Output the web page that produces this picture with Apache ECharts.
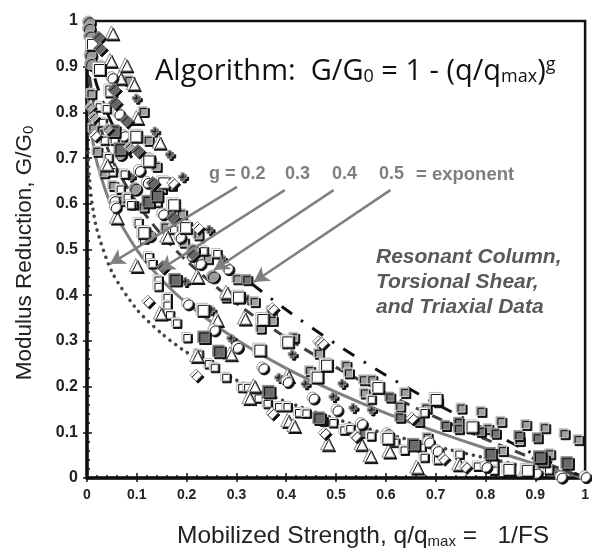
<!DOCTYPE html>
<html><head><meta charset="utf-8">
<style>html,body{margin:0;padding:0;background:#fff}#c{width:592px;height:550px}</style>
<script src="https://cdn.jsdelivr.net/npm/echarts@6/dist/echarts.min.js"></script></head>
<body><div id="c"></div>
<script>
const triangles=[[.049,.975],[.046,.915],[.077,.905],[.065,.877],[.092,.864],[.099,.79],[.144,.736],[.038,.688],[.058,.572],[.159,.53],[.098,.466],[.22,.442],[.146,.362],[.279,.408],[.315,.351],[.259,.348],[.219,.269],[.287,.273],[.334,.203],[.324,.177],[.402,.225],[.402,.127],[.414,.116],[.482,.076],[.549,.076],[.567,.05],[.605,.06],[.661,.025],[.745,.032],[.878,.018]];
const grayCircles=[[.003,.998],[.003,.984],[.005,.967],[.006,.926],[.007,.907],[.096,.634],[.066,.71],[.124,.532],[.252,.442],[.212,.499]];
const whiteCircles=[[.073,.75],[.063,.798],[.124,.70],[.104,.674],[.12,.648],[.151,.579],[.053,.608],[.056,.594],[.049,.877],[.201,.382],[.254,.325],[.301,.287],[.352,.242],[.401,.212],[.453,.176],[.226,.47],[.282,.459],[.501,.15],[.55,.12],[.602,.098],[.685,.08],[.702,.061],[.8,.026],[.901,.012],[.951,.003],[.999,.004],[.186,.528],[.209,.488]];
const largeWhiteSquares=[[.009,.951],[.023,.896],[.046,.849],[.096,.75],[.122,.696],[.152,.648],[.172,.6],[.196,.55],[.112,.539],[.302,.398],[.351,.349],[.401,.3],[.345,.282],[.231,.369],[.478,.249],[.46,.223],[.479,.249],[.582,.2],[.699,.174],[.771,.114],[.602,.089],[.882,.019],[.845,.021]];
const smallWhiteSquares=[[.023,.905],[.023,.814],[.037,.81],[.033,.741],[.053,.741],[.041,.703],[.049,.672],[.073,.667],[.065,.634],[.079,.616],[.091,.6],[.101,.561],[.139,.605],[.149,.634],[.169,.641],[.112,.525],[.172,.546],[.029,.78],[.141,.435],[.141,.421],[.159,.397],[.159,.38],[.164,.359],[.178,.341],[.199,.309],[.222,.273],[.242,.252],[.254,.244],[.277,.222],[.309,.2],[.321,.2],[.342,.177],[.36,.165],[.383,.158],[.4,.158],[.423,.145],[.438,.144],[.475,.127],[.122,.486],[.129,.471],[.259,.493],[.492,.123],[.514,.107],[.526,.11],[.568,.094],[.569,.174],[.616,.08],[.635,.063],[.669,.069],[.675,.047],[.702,.042],[.675,.145],[.782,.028],[.815,.036],[.815,.019],[.91,.023],[.925,.02],[.745,.054],[.472,.127],[.232,.499],[.086,.6]];
const graySquares=[[.007,.842],[.011,.767],[.019,.716],[.033,.669],[.051,.641],[.068,.608],[.112,.594],[.083,.871],[.112,.803],[.122,.74],[.138,.683],[.156,.55],[.189,.579],[.193,.517],[.222,.533],[.3,.437],[.277,.397],[.335,.387],[.369,.368],[.371,.346],[.347,.329],[.414,.309],[.464,.274],[.446,.236],[.519,.247],[.524,.231],[.554,.216],[.571,.216],[.556,.187],[.627,.158],[.637,.188],[.703,.168],[.68,.154],[.75,.154],[.79,.147],[.804,.109],[.83,.125],[.88,.118],[.918,.111],[.957,.098],[.985,.085],[.867,.083],[.833,.061],[.928,.054],[.682,.09],[.241,.481]];
const darkSquares=[[.32,.435],[.607,.178],[.627,.134],[.665,.125],[.719,.116],[.745,.123],[.745,.109],[.789,.103],[.819,.099],[.866,.094],[.903,.089],[.555,.101]];
const largeDarkSquares=[[.066,.721],[.053,.76],[.122,.606],[.139,.619],[.176,.435],[.234,.309],[.264,.278],[.364,.19],[.465,.132],[.655,.074],[.809,.054],[.915,.039],[.963,.034],[.908,.047]];
const darkDiamonds=[[.023,.964],[.026,.94],[.054,.85],[.056,.821],[.079,.782],[.102,.716],[.132,.646],[.172,.57],[.212,.49],[.152,.462]];
const grayDiamonds=[[.006,.812],[.013,.79],[.041,.765],[.084,.725]];
const whiteDiamonds=[[.016,.75],[.172,.646],[.222,.548],[.122,.387],[.219,.225],[.371,.142],[.465,.298],[.372,.371],[.476,.099],[.539,.092],[.652,.131],[.715,.043],[.759,.025],[.472,.295]];
const plusSquares=[[.099,.831],[.136,.759],[.166,.708],[.192,.659],[.245,.544],[.27,.481],[.197,.43],[.249,.368],[.412,.271],[.385,.22],[.438,.206],[.322,.392],[.289,.306],[.512,.207],[.494,.178],[.534,.154],[.571,.149],[.087,.66]];
const curveX=[.002,.005,.01,.02,.05,.1,.15,.2,.3,.4,.5,.6,.7,.8,.9,1];
const curveG02=[.712,.654,.602,.543,.451,.369,.316,.275,.214,.167,.129,.097,.069,.044,.021,0];
const curveG03=[.845,.796,.749,.69,.593,.499,.434,.383,.303,.24,.188,.142,.102,.065,.031,0];
const curveG04=[.917,.88,.842,.791,.698,.602,.532,.475,.382,.307,.242,.185,.133,.085,.041,0];
const curveG05=[.955,.929,.9,.859,.776,.684,.613,.553,.452,.368,.293,.225,.163,.106,.051,0];
const arrowLines=[[[.301,.637],[.046,.468]],[[.397,.63],[.146,.455]],[[.495,.63],[.255,.455]],[[.609,.63],[.335,.429]]];
const tickLabels=['0','0.1','0.2','0.3','0.4','0.5','0.6','0.7','0.8','0.9','1'];

const fontS='"Liberation Sans",Arial,sans-serif';
const zip=a=>curveX.map((x,i)=>[x,a[i]]);
const curve=(name,a,ls)=>({name,type:'line',data:zip(a),smooth:.25,symbol:'none',z:2,silent:true,lineStyle:ls});
const pts=(name,data,symbol,size,fill,border)=>({name,type:'scatter',data,symbol,symbolSize:size,z:3,silent:true,clip:false,
  itemStyle:{color:fill,borderColor:border,borderWidth:1,shadowColor:'#111',shadowBlur:0,shadowOffsetX:2,shadowOffsetY:2,opacity:1}});
const plus='path://M3 0H7V3H10V7H7V10H3V7H0V3H3Z';
const xBase={type:'value',min:0,max:1,interval:.1};
const yBase={type:'value',min:0,max:1,interval:.1};
const lab={color:'#222',fontFamily:fontS,fontWeight:'bold'};
const fmt=v=>tickLabels[Math.round(v*10)];
const option={animation:false,backgroundColor:'#fff',
 grid:{left:87,right:4,top:21,bottom:72,show:true,borderColor:'#111',borderWidth:2.5,backgroundColor:'transparent'},
 xAxis:[
  {...xBase,position:'bottom',splitLine:{show:false},axisLine:{show:true,lineStyle:{color:'#111',width:3.5}},axisTick:{show:true,length:4,lineStyle:{color:'#111',width:1.5}},minorTick:{show:false},axisLabel:{...lab,fontSize:14,margin:10,formatter:fmt,showMaxLabel:true,showMinLabel:true}},
  {...xBase,position:'bottom',splitLine:{show:false},axisLine:{show:false},axisTick:{show:true,inside:true,length:5,lineStyle:{color:'#111',width:1.5}},minorTick:{show:true,splitNumber:5,length:3,lineStyle:{color:'#111',width:1.5}},minorSplitLine:{show:false},axisLabel:{show:false}}],
 yAxis:[
  {...yBase,position:'left',splitLine:{show:false},axisLine:{show:true,lineStyle:{color:'#111',width:3.5}},axisTick:{show:true,length:4,lineStyle:{color:'#111',width:1.5}},minorTick:{show:false},axisLabel:{...lab,fontSize:16,margin:9,formatter:fmt}},
  {...yBase,position:'left',splitLine:{show:false},axisLine:{show:false},axisTick:{show:true,inside:true,length:5,lineStyle:{color:'#111',width:1.5}},minorTick:{show:true,splitNumber:5,length:3,lineStyle:{color:'#111',width:1.5}},minorSplitLine:{show:false},axisLabel:{show:false}}],
 series:[
  curve('g=0.2',curveG02,{color:'#444',width:3.5,type:[.1,7],cap:'round'}),
  curve('g=0.3',curveG03,{color:'#7f7f7f',width:3}),
  curve('g=0.4',curveG04,{color:'#404040',width:3,type:[11,7]}),
  curve('g=0.5',curveG05,{color:'#111',width:3,type:[13,11,2.5,11]}),
  pts('plus',plusSquares,plus,8,'#5a5a5a','#999'),
  pts('gray squares',graySquares,'rect',9,'#a0a0a0','#c8c8c8'),
  pts('dark squares',darkSquares,'rect',9,'#777','#999'),
  pts('white squares',smallWhiteSquares,'rect',8.5,'#fff','#bbb'),
  pts('triangles',triangles,'triangle',13,'#fff','#888'),
  pts('gray circles',grayCircles,'circle',12,'#999','#bbb'),
  pts('white circles',whiteCircles,'circle',11,'#fff','#999'),
  pts('large white squares',largeWhiteSquares,'rect',12,'#fff','#bbb'),
  pts('large dark squares',largeDarkSquares,'rect',11.5,'#6a6a6a','#888'),
  pts('gray diamonds',grayDiamonds,'diamond',11,'#aaa','#ccc'),
  pts('white diamonds',whiteDiamonds,'diamond',12,'#fff','#888'),
  pts('dark diamonds',darkDiamonds,'diamond',13,'#666','#888'),
  {name:'arrows',type:'line',data:[],z:6,silent:true,markLine:{silent:true,symbol:['none','arrow'],symbolSize:[13,15],label:{show:false},z:6,
    lineStyle:{color:'#7f7f7f',width:2.5,type:'solid'},emphasis:{disabled:true},
    data:arrowLines.map(([a,b])=>[{coord:a},{coord:b}])}}
 ],
 graphic:[
  {type:'text',z:10,left:155,top:56,style:{text:'{a|Algorithm:  G/G}{s|0}{a| = 1 - (q/q}{s|max}{a|)}{u|g}',fill:'#111',rich:{a:{fontFamily:'"Open Sans"',fontSize:29,fill:'#111',verticalAlign:'bottom'},s:{fontFamily:'"Open Sans"',fontSize:18,fill:'#111',verticalAlign:'bottom',padding:[12,0,0,0]},u:{fontFamily:'"Open Sans"',fontSize:18,fill:'#111',padding:[0,0,12,0]}}}},
  {type:'text',z:10,left:209,top:165,style:{text:'g = 0.2',fill:'#7f7f7f',font:'bold 18px '+fontS}},
  {type:'text',z:10,left:285,top:165,style:{text:'0.3',fill:'#7f7f7f',font:'bold 18px '+fontS}},
  {type:'text',z:10,left:332,top:165,style:{text:'0.4',fill:'#7f7f7f',font:'bold 18px '+fontS}},
  {type:'text',z:10,left:379,top:165,style:{text:'0.5',fill:'#7f7f7f',font:'bold 18px '+fontS}},
  {type:'text',z:10,left:416,top:165,style:{text:'= exponent',fill:'#7f7f7f',font:'bold 18.5px '+fontS}},
  {type:'text',z:10,left:376,top:247,style:{text:'Resonant Column,',fill:'#595959',font:'italic bold 21px '+fontS}},
  {type:'text',z:10,left:376,top:272,style:{text:'Torsional Shear,',fill:'#595959',font:'italic bold 21px '+fontS}},
  {type:'text',z:10,left:376,top:297,style:{text:'and Triaxial Data',fill:'#595959',font:'italic bold 21px '+fontS}},
  {type:'text',z:10,left:177,top:524,style:{text:'{a|Mobilized Strength, q/q}{s|max}{a| =   1/FS}',rich:{a:{fontFamily:fontS,fontSize:24.5,fill:'#222',verticalAlign:'bottom'},s:{fontFamily:fontS,fontSize:15,fill:'#222',verticalAlign:'bottom',padding:[8,0,0,0]}}}},
  {type:'text',z:10,x:25,y:253,rotation:Math.PI/2,style:{text:'{a|Modulus Reduction, G/G}{s|0}',align:'center',verticalAlign:'middle',rich:{a:{fontFamily:fontS,fontSize:22.5,fill:'#222',verticalAlign:'bottom'},s:{fontFamily:fontS,fontSize:15,fill:'#222',verticalAlign:'bottom',padding:[8,0,0,0]}}}}
 ]};
option.series.forEach(s=>{s.xAxisIndex=0;s.yAxisIndex=0;});
echarts.init(document.getElementById('c'),null,{renderer:'canvas'}).setOption(option);
</script></body></html>
